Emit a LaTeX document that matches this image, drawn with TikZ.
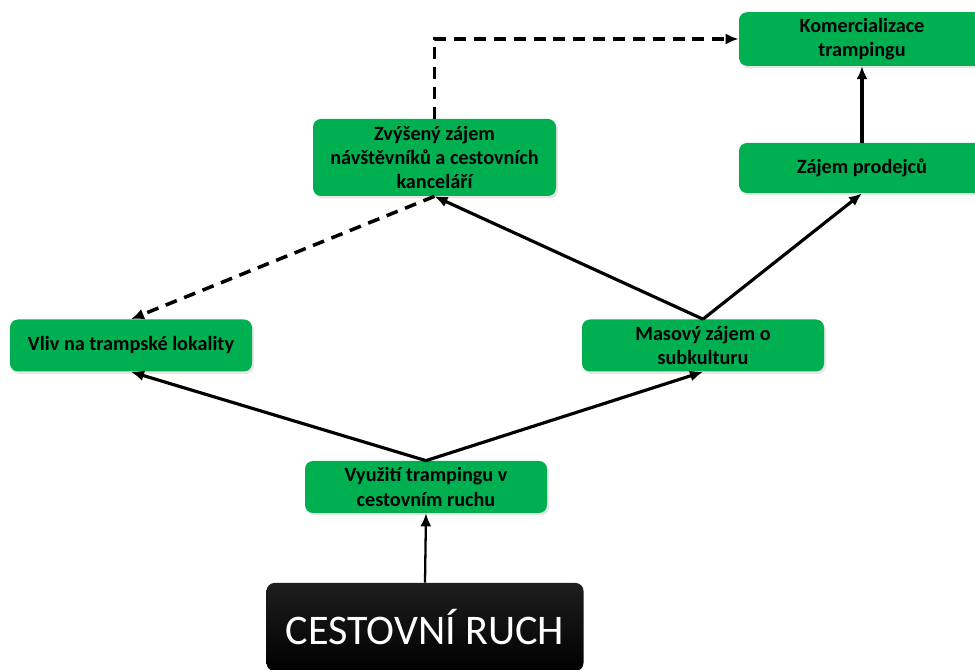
\documentclass[tikz,border=0pt]{standalone}
\usepackage{fontspec}
\setmainfont{Carlito}
\usetikzlibrary{arrows.meta,shadows}
\definecolor{zelena}{HTML}{00B050}
\begin{document}
\begin{tikzpicture}[
	caja/.style={fill=zelena, rounded corners=0.16cm, minimum width=4.84cm, minimum height=1.04cm, align=center, font=\fontsize{11.5}{13.8}\selectfont\bfseries, drop shadow={shadow xshift=0.04cm, shadow yshift=-0.05cm, opacity=0.2}},
	base/.style={top color=black!88, bottom color=black, rounded corners=0.16cm, minimum width=6.34cm, minimum height=1.76cm, text=white, font=\fontsize{24}{28}\selectfont},
	flecha/.style={-{Latex[length=2.6mm,width=2.2mm]}, line width=1.8pt},
	punteada/.style={flecha, line width=2pt, dash pattern=on 6.8pt off 4.5pt}]
	\useasboundingbox (0,0) rectangle (19.5,13.4);
	% Cajas
		\node[base] (ruch) at (8.5,0.86) {CESTOVNÍ RUCH};
		\node[caja] (vyuziti) at (8.52,3.66) {Využití trampingu v\\cestovním ruchu};
		\node[caja] (vliv) at (2.62,6.49) {Vliv na trampské lokality};
		\node[caja] (masovy) at (14.06,6.49) {Masový zájem o\\subkulturu};
		\node[caja, minimum width=4.86cm, minimum height=1.54cm] (zvyseny) at (8.69,10.25) {Zvýšený zájem\\návštěvníků a cestovních\\kanceláří};
		\node[caja, minimum width=4.92cm, minimum height=1.0cm] (prodejci) at (17.24,10.04) {Zájem prodejců};
		\node[caja, minimum width=4.92cm] (komerce) at (17.24,12.62) {Komercializace\\trampingu};
	% Flechas
		\draw[flecha, line width=1.3pt] (ruch.north) -- (vyuziti.south);
		\draw[flecha] (vyuziti.north) -- (vliv.south);
		\draw[flecha] (vyuziti.north) -- (masovy.south);
		\draw[flecha] (masovy.north) -- (zvyseny.south);
		\draw[flecha] (masovy.north) -- (prodejci.south);
		\draw[flecha] (prodejci.north) -- (komerce.south);
	% Flechas punteadas
		\draw[punteada] (zvyseny.south) -- (vliv.north);
		\draw[punteada] (zvyseny.north) |- (komerce.west);
\end{tikzpicture}
\end{document}
